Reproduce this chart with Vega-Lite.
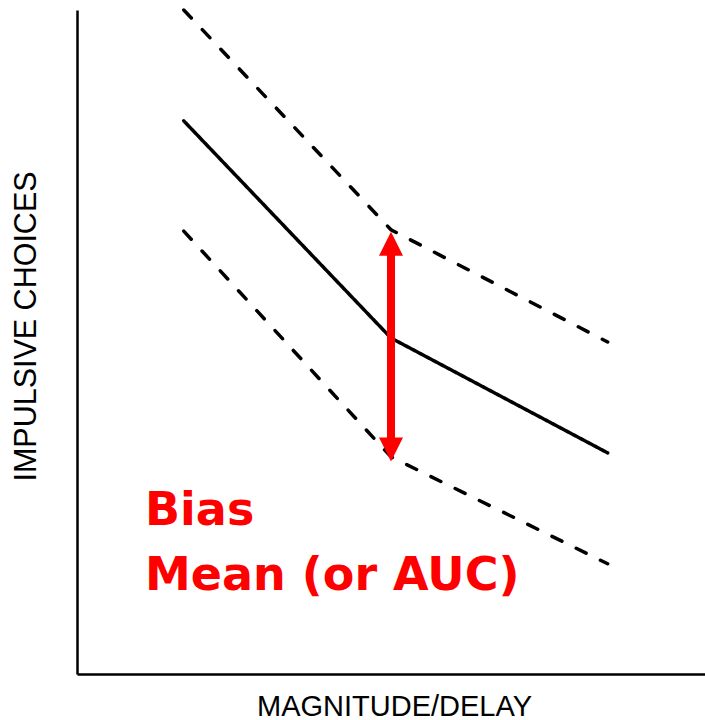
{
  "$schema": "https://vega.github.io/schema/vega-lite/v6.json",
  "width": 628,
  "height": 664,
  "autosize": "none",
  "padding": {"left": 77, "top": 10, "right": 0, "bottom": 46},
  "background": "white",
  "config": {
    "view": {"stroke": null},
    "axis": {
      "domainColor": "black",
      "domainWidth": 2.5,
      "ticks": false,
      "labels": false,
      "grid": false,
      "titleFont": "Liberation Sans",
      "titleFontSize": 28,
      "titleFontWeight": "normal",
      "titleColor": "black"
    }
  },
  "datasets": {
    "lines": [
      {"series": "upper", "style": "dashed", "x": 1.7, "y": 10.0},
      {"series": "upper", "style": "dashed", "x": 5.0, "y": 6.69},
      {"series": "upper", "style": "dashed", "x": 8.45, "y": 5.0},
      {"series": "mean", "style": "solid", "x": 1.7, "y": 8.33},
      {"series": "mean", "style": "solid", "x": 5.0, "y": 5.06},
      {"series": "mean", "style": "solid", "x": 8.45, "y": 3.33},
      {"series": "lower", "style": "dashed", "x": 1.7, "y": 6.67},
      {"series": "lower", "style": "dashed", "x": 5.0, "y": 3.27},
      {"series": "lower", "style": "dashed", "x": 8.45, "y": 1.66}
    ],
    "shaft": [{"x": 5.0, "y": 6.48, "y2": 3.38}],
    "heads": [
      {"x": 5.0, "y": 6.48, "dir": "up"},
      {"x": 5.0, "y": 3.38, "dir": "down"}
    ],
    "labels": [
      {"x": 1.083, "y": 2.244, "text": "Bias"},
      {"x": 1.083, "y": 1.265, "text": "Mean (or AUC)"}
    ]
  },
  "layer": [
    {
      "data": {"name": "lines"},
      "mark": {"type": "line", "color": "black", "strokeWidth": 3.5, "strokeCap": "round", "clip": false},
      "encoding": {
        "x": {"field": "x", "type": "quantitative", "scale": {"domain": [0, 10]}, "axis": {"title": "MAGNITUDE/DELAY", "titleX": 317, "titleY": 41, "titleFontSize": 29, "titleBaseline": "alphabetic", "titleAlign": "center"}},
        "y": {"field": "y", "type": "quantitative", "scale": {"domain": [0, 10]}, "axis": {"title": "IMPULSIVE CHOICES", "titleX": -42, "titleY": 316, "titleFontSize": 30.5, "titleAngle": 270, "titleBaseline": "alphabetic", "titleAlign": "center"}},
        "detail": {"field": "series"},
        "strokeDash": {"field": "style", "type": "nominal", "scale": {"domain": ["solid", "dashed"], "range": [[1, 0], [11, 16]]}, "legend": null}
      }
    },
    {
      "data": {"name": "shaft"},
      "mark": {"type": "rule", "color": "#ff0000", "strokeWidth": 8},
      "encoding": {
        "x": {"field": "x", "type": "quantitative"},
        "y": {"field": "y", "type": "quantitative"},
        "y2": {"field": "y2"}
      }
    },
    {
      "data": {"name": "heads"},
      "mark": {"type": "point", "filled": true, "color": "#ff0000", "opacity": 1, "size": 576, "strokeWidth": 0},
      "encoding": {
        "x": {"field": "x", "type": "quantitative"},
        "y": {"field": "y", "type": "quantitative"},
        "shape": {"field": "dir", "type": "nominal", "scale": {"domain": ["up", "down"], "range": ["M0,-1L1,1L-1,1Z", "M0,1L1,-1L-1,-1Z"]}, "legend": null}
      }
    },
    {
      "data": {"name": "labels"},
      "mark": {"type": "text", "align": "left", "baseline": "alphabetic", "font": "DejaVu Sans", "fontWeight": "bold", "fontSize": 46, "color": "#ff0000"},
      "encoding": {
        "x": {"field": "x", "type": "quantitative"},
        "y": {"field": "y", "type": "quantitative"},
        "text": {"field": "text"}
      }
    }
  ]
}
